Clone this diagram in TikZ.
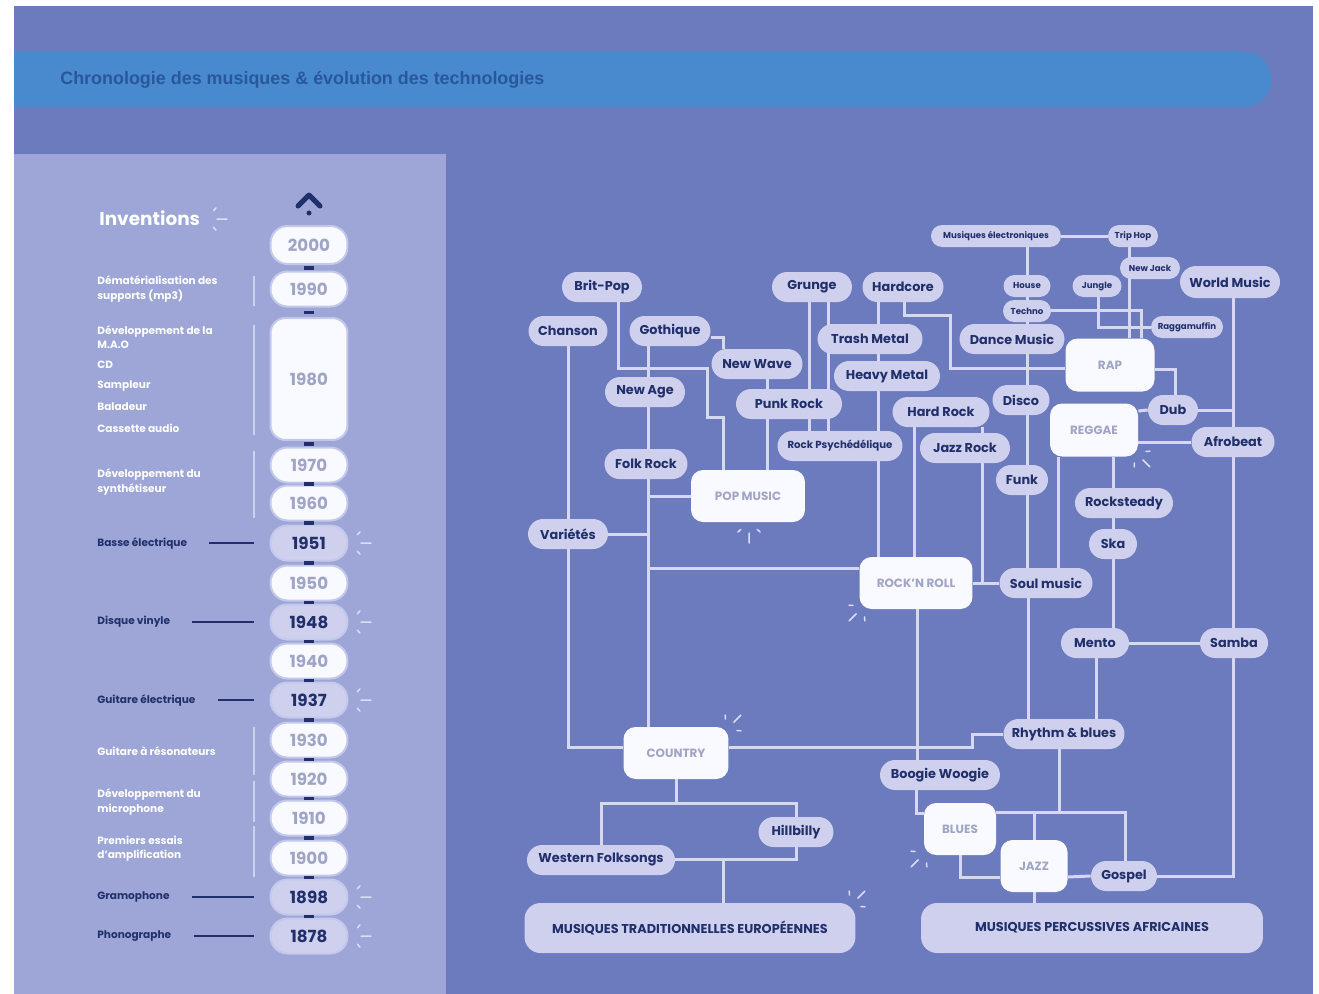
\documentclass[tikz,border=0pt]{standalone}
\usepackage{fontspec}
\setmainfont{Poppins}
\newfontfamily\titlefont{Liberation Sans}
\usetikzlibrary{calc}
\definecolor{bgblue}{RGB}{108,122,190}
\definecolor{headblue}{RGB}{73,137,206}
\definecolor{headtext}{RGB}{40,88,155}
\definecolor{panel}{RGB}{157,166,214}
\definecolor{pill}{RGB}{206,208,237}
\definecolor{wire}{RGB}{214,216,242}
\definecolor{navy}{RGB}{33,48,107}
\definecolor{snow}{RGB}{249,250,255}
\definecolor{greytext}{RGB}{160,164,198}
\definecolor{yearedge}{RGB}{196,201,236}
\definecolor{rangecol}{RGB}{204,209,240}
\definecolor{sparkcol}{RGB}{218,222,246}
\pgfdeclarelayer{back}
\pgfdeclarelayer{wires}
\pgfsetlayers{back,wires,main}

\begin{document}
\begin{tikzpicture}[x=0.02cm,y=-0.02cm,
  link/.style={draw=wire,line width=0.06cm},
  genre/.style={fill=pill,text=navy,font=\bfseries\fontsize{7.3}{8}\selectfont,rounded corners=0.3cm,minimum height=0.6cm,inner sep=0pt},
  minigenre/.style={genre,font=\bfseries\fontsize{4.9}{6}\selectfont,rounded corners=0.22cm,minimum height=0.44cm},
  mainbox/.style={fill=snow,text=greytext,font=\bfseries\fontsize{6.8}{7}\selectfont,rounded corners=0.24cm,minimum height=1.04cm,inner sep=0pt},
  rootbox/.style={fill=pill,text=navy,font=\bfseries\fontsize{7.3}{8}\selectfont,rounded corners=0.32cm,minimum height=1cm,inner sep=0pt},
  yearpill/.style={fill=snow,draw=yearedge,line width=0.04cm,text=greytext,font=\bfseries\fontsize{9.5}{10}\selectfont,rounded corners=0.34cm,minimum width=1.54cm,minimum height=0.7cm,inner sep=0pt},
  keyyear/.style={yearpill,fill=pill,text=navy},
  invention/.style={anchor=west,text=white,font=\bfseries\fontsize{6}{8}\selectfont,align=left,inner sep=0pt},
  keyinvention/.style={invention,text=navy},
  rangeline/.style={draw=rangecol,line width=0.04cm},
  pointer/.style={draw=navy,line width=0.03cm,shorten <=0.44cm,shorten >=0.32cm},
  yeartick/.style={draw=navy,line width=0.07cm},
  sparkle/.style={draw=sparkcol,line width=0.03cm,line cap=round},
  spark/.pic={\draw[sparkle] (0:0.22cm) -- (0:0.42cm) (48:0.22cm) -- (48:0.3cm) (-48:0.22cm) -- (-48:0.3cm);}]
\useasboundingbox (0,0) rectangle (1319,994);
\begin{pgfonlayer}{back}
\fill[white] (0,0) rectangle (1319,994);
\fill[bgblue] (14,6) rectangle (1313,994);
\fill[headblue] (14,52) -- (1244,52) arc[start angle=90,end angle=-90,radius=0.55cm] -- (14,107) -- cycle;
\fill[panel] (14,154) rectangle (446,994);
\end{pgfonlayer}

\node[anchor=west,text=headtext,font=\titlefont\bfseries\fontsize{10.2}{11}\selectfont,inner sep=0pt] (title) at (60,80) {Chronologie des musiques \& évolution des technologies};

\node[anchor=west,text=white,font=\bfseries\fontsize{10.5}{11}\selectfont,inner sep=0pt] (inventions) at (99,218) {Inventions};
\pic at (206,219) {spark};
\draw[navy,line width=0.1cm,line cap=round,line join=round] (298,206) -- (309,195) -- (320,206);
\fill[navy] (309,213) circle (0.05cm);

\node[yearpill,minimum height=0.76cm] (y2000) at (309,245) {2000};
\node[yearpill] (y1990) at (309,289) {1990};
\node[yearpill,minimum height=2.44cm,rounded corners=0.3cm] (y1980) at (309,379) {1980};
\node[yearpill] (y1970) at (309,465) {1970};
\node[yearpill] (y1960) at (309,503) {1960};
\node[keyyear] (y1951) at (309,543) {1951};
\node[yearpill] (y1950) at (309,583) {1950};
\node[keyyear] (y1948) at (309,622) {1948};
\node[yearpill] (y1940) at (309,661) {1940};
\node[keyyear] (y1937) at (309,700) {1937};
\node[yearpill] (y1930) at (309,740) {1930};
\node[yearpill] (y1920) at (309,779) {1920};
\node[yearpill] (y1910) at (309,818) {1910};
\node[yearpill] (y1900) at (309,858) {1900};
\node[keyyear] (y1898) at (309,897) {1898};
\node[keyyear] (y1878) at (309,936) {1878};

\draw[yeartick] ($(y2000.south)!.5!(y1990.north)$) +(-5,0) -- +(5,0);
\draw[yeartick] ($(y1990.south)!.5!(y1980.north)$) +(-5,0) -- +(5,0);
\draw[yeartick] ($(y1980.south)!.5!(y1970.north)$) +(-5,0) -- +(5,0);
\draw[yeartick] ($(y1970.south)!.5!(y1960.north)$) +(-5,0) -- +(5,0);
\draw[yeartick] ($(y1960.south)!.5!(y1951.north)$) +(-5,0) -- +(5,0);
\draw[yeartick] ($(y1951.south)!.5!(y1950.north)$) +(-5,0) -- +(5,0);
\draw[yeartick] ($(y1950.south)!.5!(y1948.north)$) +(-5,0) -- +(5,0);
\draw[yeartick] ($(y1948.south)!.5!(y1940.north)$) +(-5,0) -- +(5,0);
\draw[yeartick] ($(y1940.south)!.5!(y1937.north)$) +(-5,0) -- +(5,0);
\draw[yeartick] ($(y1937.south)!.5!(y1930.north)$) +(-5,0) -- +(5,0);
\draw[yeartick] ($(y1930.south)!.5!(y1920.north)$) +(-5,0) -- +(5,0);
\draw[yeartick] ($(y1920.south)!.5!(y1910.north)$) +(-5,0) -- +(5,0);
\draw[yeartick] ($(y1910.south)!.5!(y1900.north)$) +(-5,0) -- +(5,0);
\draw[yeartick] ($(y1900.south)!.5!(y1898.north)$) +(-5,0) -- +(5,0);
\draw[yeartick] ($(y1898.south)!.5!(y1878.north)$) +(-5,0) -- +(5,0);

\pic at (350,543) {spark};
\pic at (350,622) {spark};
\pic at (350,700) {spark};
\pic at (350,897) {spark};
\pic at (350,936) {spark};

\node[invention] (mp3) at (97,289) {Dématérialisation des\\supports (mp3)};
\node[invention] (mao) at (97,337) {Développement de la\\M.A.O};
\node[invention] (cd) at (97,365) {CD};
\node[invention] (sampleur) at (97,386) {Sampleur};
\node[invention] (baladeur) at (97,407) {Baladeur};
\node[invention] (cassette) at (97,428) {Cassette audio};
\node[invention] (synthe) at (97,482) {Développement du\\synthétiseur};
\node[keyinvention] (basse) at (97,543) {Basse électrique};
\node[keyinvention] (vinyle) at (97,622) {Disque vinyle};
\node[keyinvention] (guitare) at (97,700) {Guitare électrique};
\node[invention] (resonateur) at (97,751) {Guitare à résonateurs};
\node[invention] (micro) at (97,802) {Développement du\\microphone};
\node[invention] (ampli) at (97,849) {Premiers essais\\d'amplification};
\node[keyinvention] (gramo) at (97,897) {Gramophone};
\node[keyinvention] (phono) at (97,936) {Phonographe};

\draw[rangeline] (254,276) -- (254,306);
\draw[rangeline] (254,325) -- (254,435);
\draw[rangeline] (254,451) -- (254,518);
\draw[rangeline] (254,727) -- (254,775);
\draw[rangeline] (254,781) -- (254,822);
\draw[rangeline] (254,826) -- (254,877);
\draw[pointer] (basse.east) -- (y1951.west);
\draw[pointer] (vinyle.east) -- (y1948.west);
\draw[pointer] (guitare.east) -- (y1937.west);
\draw[pointer] (gramo.east) -- (y1898.west);
\draw[pointer] (phono.east) -- (y1878.west);

\node[genre,minimum width=1.6cm] (britpop) at (602,287) {Brit-Pop};
\node[genre,minimum width=1.58cm] (chanson) at (568,331) {Chanson};
\node[genre,minimum width=1.62cm] (gothique) at (670,331) {Gothique};
\node[genre,minimum width=1.6cm] (grunge) at (812,287) {Grunge};
\node[genre,minimum width=1.62cm] (hardcore) at (903,287) {Hardcore};
\node[genre,minimum width=2.1cm] (trash) at (870,339) {Trash Metal};
\node[genre,minimum width=1.82cm] (newwave) at (757,364) {New Wave};
\node[genre,minimum width=2.12cm] (heavy) at (887,376) {Heavy Metal};
\node[genre,minimum width=1.6cm] (newage) at (645,392) {New Age};
\node[genre,minimum width=2.12cm] (punk) at (789,404) {Punk Rock};
\node[genre,minimum width=1.94cm] (hardrock) at (941,412) {Hard Rock};
\node[genre,minimum width=2.5cm,font=\bfseries\fontsize{5.8}{7}\selectfont] (rockpsy) at (840,446) {Rock Psychédélique};
\node[genre,minimum width=1.8cm] (jazzrock) at (965,448) {Jazz Rock};
\node[genre,minimum width=1.66cm] (folkrock) at (646,464) {Folk Rock};
\node[mainbox,minimum width=2.28cm] (pop) at (748,496) {POP MUSIC};
\node[genre,minimum width=1.6cm] (variete) at (568,534) {Variétés};
\node[mainbox,minimum width=2.26cm] (rocknroll) at (916,583) {ROCK'N ROLL};
\node[genre,minimum width=1.86cm] (soul) at (1046,583) {Soul music};
\node[genre,minimum width=1.04cm] (funk) at (1022,480) {Funk};
\node[genre,minimum width=1.14cm] (disco) at (1021,400) {Disco};
\node[genre,minimum width=2.1cm] (dance) at (1012,339) {Dance Music};
\node[minigenre,minimum width=0.94cm] (house) at (1027,286) {House};
\node[minigenre,minimum width=0.96cm] (techno) at (1027,311) {Techno};
\node[minigenre,minimum width=2.6cm] (musel) at (996,236) {Musiques électroniques};
\node[minigenre,minimum width=1cm] (triphop) at (1133,236) {Trip Hop};
\node[minigenre,minimum width=1.2cm] (newjack) at (1150,268) {New Jack};
\node[minigenre,minimum width=0.98cm] (jungle) at (1097,286) {Jungle};
\node[minigenre,minimum width=1.44cm] (ragga) at (1187,327) {Raggamuffin};
\node[genre,minimum width=2cm,minimum height=0.64cm,rounded corners=0.32cm] (world) at (1230,282) {World Music};
\node[mainbox,minimum width=1.78cm,minimum height=1.06cm] (rap) at (1110,365) {RAP};
\node[mainbox,minimum width=1.76cm,minimum height=1.06cm] (reggae) at (1094,430) {REGGAE};
\node[genre,minimum width=1cm] (dub) at (1173,410) {Dub};
\node[genre,minimum width=1.66cm] (afrobeat) at (1233,442) {Afrobeat};
\node[genre,minimum width=1.96cm] (rocksteady) at (1124,503) {Rocksteady};
\node[genre,minimum width=0.96cm] (ska) at (1113,544) {Ska};
\node[genre,minimum width=1.36cm] (mento) at (1095,643) {Mento};
\node[genre,minimum width=1.36cm] (samba) at (1234,643) {Samba};
\node[genre,minimum width=2.42cm] (rnb) at (1064,734) {Rhythm \& blues};
\node[genre,minimum width=2.4cm] (boogie) at (940,775) {Boogie Woogie};
\node[mainbox,minimum width=1.44cm] (blues) at (960,829) {BLUES};
\node[mainbox,minimum width=1.34cm] (jazz) at (1034,866) {JAZZ};
\node[genre,minimum width=1.32cm] (gospel) at (1124,876) {Gospel};
\node[rootbox,minimum width=6.84cm] (afr) at (1092,928) {MUSIQUES PERCUSSIVES AFRICAINES};
\node[mainbox,minimum width=2.1cm] (country) at (676,753) {COUNTRY};
\node[genre,minimum width=1.5cm] (hillbilly) at (796,832) {Hillbilly};
\node[genre,minimum width=2.96cm] (western) at (601,860) {Western Folksongs};
\node[rootbox,minimum width=6.62cm] (trad) at (690,928) {MUSIQUES TRADITIONNELLES EUROPÉENNES};

\pic[rotate=-90] at (749,522) {spark};
\pic[rotate=-135] at (864,606) {spark};
\pic[rotate=45] at (726,730) {spark};
\pic[rotate=-45] at (1135,452) {spark};
\pic[rotate=-135] at (926,852) {spark};
\pic[rotate=45] at (850,906) {spark};

\begin{pgfonlayer}{wires}
\draw[link] (britpop.south -| 618,0) |- (707,368) |- (723,417) -- (pop.north -| 723,0);
\draw[link] (chanson) -- (variete);
\draw[link] (variete) |- (country.west |- 0,747);
\draw[link] (gothique.south -| 648,0) -- (country.north -| 648,0);
\draw[link] (pop.west) -- (pop.west -| 648,0);
\draw[link] (variete.east) -- (variete.east -| 648,0);
\draw[link] (rocknroll.west |- 0,568) -- (648,568);
\draw[link] (gothique.east |- 0,337) -| (newwave.north -| 723,0);
\draw[link] (newwave.south -| 767,0) -- (pop.north -| 767,0);
\draw[link] (grunge.south -| 809,0) -- (rockpsy.north -| 809,0);
\draw[link] (grunge.south -| 828,0) -- (rockpsy.north -| 828,0);
\draw[link] (hardcore.south -| 878,0) -- (rocknroll.north -| 878,0);
\draw[link] (hardcore.south -| 904,0) |- (950,315) |- (rap.west |- 0,368);
\draw[link] (hardrock.south -| 914,0) -- (rocknroll.north -| 914,0);
\draw[link] (hardrock.south -| 982,0) |- (soul.west);
\draw[link] (rocknroll.east) -- (soul.west);
\draw[link] (musel.south -| 1027,0) -- (soul.north -| 1027,0);
\draw[link] (soul.south -| 1028,0) -- (rnb.north -| 1028,0);
\draw[link] (reggae.south -| 1058,0) -- (soul.north -| 1058,0);
\draw[link] (reggae.south -| 1113,0) -- (mento.north -| 1113,0);
\draw[link] (mento.south -| 1096,0) -- (rnb.north -| 1096,0);
\draw[link] (mento.east) -- (samba.west);
\draw[link] (world.south -| 1233,0) -- (samba.north -| 1233,0);
\draw[link] (samba.south -| 1233,0) |- (gospel.east);
\draw[link] (reggae.east |- 0,442) -- (afrobeat.west);
\draw[link] (reggae.east |- 0,411) -- (dub.west);
\draw[link] (dub.east) -- (dub.east -| 1233,0);
\draw[link] (rap.east |- 0,369) -| (dub.north -| 1175,0);
\draw[link] (triphop.south -| 1129,0) -- (rap.north -| 1129,0);
\draw[link] (musel.east) -- (triphop.west);
\draw[link] (techno.east |- 0,310) -| (rap.north -| 1141,0);
\draw[link] (jungle.south -| 1098,0) |- (ragga.west);
\draw[link] (rocknroll.south -| 917,0) -- (boogie.north -| 917,0);
\draw[link] (country.east |- 0,747) -| (972,734) -- (rnb.west);
\draw[link] (boogie.south -| 916,0) |- (blues.west |- 0,813);
\draw[link] (rnb.south -| 1059,0) |- (1034,812) -- (jazz.north -| 1034,0);
\draw[link] (blues.east |- 0,812) -| (gospel.north -| 1125,0);
\draw[link] (blues.south -| 960,0) |- (jazz.west |- 0,877);
\draw[link] (jazz.east |- 0,877) -- (gospel.west);
\draw[link] (jazz.south) -- (afr.north -| jazz.south);
\draw[link] (country.south -| 676,0) |- (601,803) -- (western.north -| 601,0);
\draw[link] (country.south -| 676,0) |- (796,803) -- (hillbilly.north -| 796,0);
\draw[link] (hillbilly.south -| 796,0) |- (western.east |- 0,859);
\draw[link] (trad.north -| 723,0) -- (western.east -| 723,0);
\end{pgfonlayer}
\end{tikzpicture}
\end{document}
